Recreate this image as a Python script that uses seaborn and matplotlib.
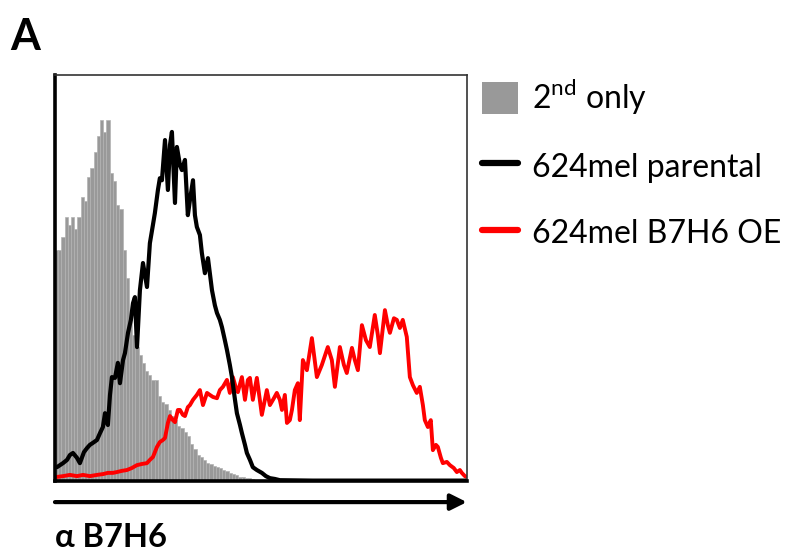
import matplotlib
matplotlib.use("Agg")
import matplotlib.pyplot as plt
from matplotlib.patches import Patch
from matplotlib.lines import Line2D
import pandas as pd
import seaborn as sns

# fluorescence channel (0-256) and normalised counts (axis top = 100)
gray_x = [1, 3, 5, 7, 9, 11, 13, 15, 17, 19, 21, 23, 25, 27, 29, 31, 33, 35, 37, 39,
          41, 43, 45, 47, 49, 51, 53, 55, 57, 59, 61, 63, 65, 67, 69, 71, 73, 75, 77, 79,
          81, 83, 85, 87, 89, 91, 93, 95, 97, 99, 101, 103, 105, 107, 109, 111, 113, 115,
          117, 119, 121, 123, 125]
gray_y = [57, 57, 60, 65, 63, 65, 62, 65, 70, 69, 75, 77, 81, 85, 89, 86, 89, 76, 74, 68,
          67, 57, 50, 40, 36, 33, 31, 29, 27, 26, 25, 25, 21, 19.5, 19, 17.5, 16, 15, 13.5, 13,
          12, 11, 9, 8, 6.5, 5.8, 5.2, 4.5, 4.2, 3.8, 3.4, 3.2, 2.8, 2.4, 2.0, 1.8, 1.4,
          1.0, 0.9, 0.8, 0.7, 0.4, 0.2]

black_x = [1.2, 3.1, 5.0, 7.5, 9.3, 11.2, 13.7, 15.5, 18.0, 19.9, 21.7, 23.6, 26.1, 28.0,
           29.8, 31.1, 32.9, 34.2, 35.4, 37.3, 39.1, 40.4, 42.3, 43.5, 45.4, 47.2, 48.5,
           49.7, 51.0, 52.8, 54.7, 57.2, 59.0, 60.9, 62.1, 64.0, 65.2, 66.5, 68.4, 70.2,
           71.5, 72.7, 74.6, 75.8, 77.7, 78.9, 80.8, 82.6, 83.9, 85.8, 87.0, 88.2, 90.1,
           91.3, 93.2, 95.1, 97.6, 99.4, 100.7, 102.5, 103.8, 105.6, 106.9, 108.7, 110.0,
           111.9, 113.1, 115.0, 116.2, 118.1, 119.3, 121.2, 123.0, 125.5, 128.6, 131.1,
           133.6, 136.7, 139.8, 160, 200, 256]
black_y = [3.4, 3.9, 4.4, 5.2, 6.4, 6.9, 5.7, 4.4, 7.1, 8.1, 8.9, 9.4, 10.1, 11.8,
           13.3, 16.7, 13.8, 21.2, 25.6, 25.4, 29.1, 24.1, 29.8, 31.5, 36.5, 39.7, 43.8,
           45.3, 33.0, 47.0, 53.7, 47.8, 58.6, 63.1, 66.0, 71.7, 74.6, 74.1, 84.0, 71.7,
           82.8, 86.0, 68.5, 82.3, 77.8, 76.6, 79.1, 65.5, 69.2, 74.1, 65.5, 62.6, 60.6,
           56.2, 51.2, 54.9, 47.0, 43.3, 41.4, 39.7, 37.9, 34.7, 32.3, 28.6, 25.6,
           20.0, 16.7, 13.8, 11.8, 8.9, 6.9, 5.2, 3.4, 2.7, 2.0, 1.2,
           0.7, 0.5, 0.2, 0.1, 0.1, 0.1]

red_x = [1.2, 5.0, 9.3, 13.7, 17.4, 21.7, 26.1, 29.8, 32.9, 36.0, 38.5, 41.6, 44.7, 47.8,
         50.9, 54.1, 57.2, 59.0, 60.9, 63.4, 65.2, 67.1, 68.4, 70.2, 71.5, 73.3, 74.6,
         76.4, 77.7, 79.5, 80.8, 82.6, 83.9, 85.8, 88.2, 90.1, 92.0, 94.5, 96.3, 98.2,
         100.7, 102.5, 104.4, 106.9, 108.7, 110.6, 112.5, 113.7, 116.2, 118.1, 119.9,
         121.2, 123.0, 125.5, 128.6, 131.7, 133.6, 136.1, 137.9, 139.8, 141.1, 142.9,
         144.2, 146.0, 147.3, 149.1, 151.0, 152.2, 154.1, 156.6, 159.7, 162.8, 165.9,
         169.6, 172.1, 174.0, 177.1, 179.6, 181.4, 184.6, 186.4, 188.3, 190.8, 193.3,
         195.7, 198.8, 200.7, 202.0, 205.1, 206.9, 208.2, 210.7, 212.5, 214.4, 216.2,
         218.7, 220.6, 222.5, 224.9, 226.8, 228.7, 229.9, 231.8, 233.6, 234.9, 236.8,
         238.0, 239.9, 241.1, 243.6, 245.5, 247.9, 249.8, 251.7, 252.9, 254.8, 256.0]
red_y = [1.0, 1.2, 1.5, 1.2, 1.5, 1.2, 1.5, 1.7, 2.0, 2.0, 2.2, 2.5, 2.7, 3.2,
         3.9, 4.2, 4.4, 5.2, 5.9, 8.4, 9.6, 10.1, 10.6, 14.3, 16.0, 15.0, 14.5,
         17.5, 17.5, 16.3, 16.0, 18.2, 18.7, 20.0, 21.2, 22.4, 18.7, 21.7, 21.2, 20.7,
         20.4, 22.4, 23.2, 24.9, 21.7, 25.6, 22.9, 21.9, 25.6, 20.0, 24.9,
         25.4, 20.0, 25.4, 16.3, 22.4, 18.7, 20.4, 21.7, 20.0, 17.5, 21.2,
         14.3, 15.0, 17.5, 22.4, 24.1, 15.0, 29.8, 27.3, 35.2, 25.6, 28.6,
         33.0, 29.8, 23.2, 33.0, 28.6, 26.6, 32.8, 29.8, 27.3, 38.4, 34.7,
         33.0, 40.9, 36.0, 31.5, 42.1, 38.4, 36.5, 40.1, 39.7, 37.7, 39.7,
         35.5, 25.6, 23.6, 21.7, 23.2, 18.7, 15.0, 13.3, 15.0, 7.6, 8.9,
         8.4, 5.7, 4.4, 4.7, 3.9, 3.2, 2.2, 2.7, 2.0, 1.2, 1.0]

labels = ["2$^{\\mathrm{nd}}$ only", "624mel parental", "624mel B7H6 OE"]
colors = ["#999999", "black", "#ff0000"]

sns.set_theme(style="white")
plt.rcParams["font.family"] = ["Lato", "DejaVu Sans"]
plt.rcParams["text.color"] = "black"
plt.rcParams["mathtext.fontset"] = "custom"
plt.rcParams["mathtext.rm"] = "Lato"

fig = plt.figure(figsize=(7.92, 5.56), dpi=100)
ax = fig.add_axes([0.0694, 0.1349, 0.520, 0.730])

gray_df = pd.DataFrame({"x": gray_x, "count": gray_y})
sns.histplot(data=gray_df, x="x", weights="count", binwidth=2, binrange=(0, 126),
             color=colors[0], edgecolor="#b3b3b3", linewidth=0.5, alpha=1, ax=ax)
sns.lineplot(x=red_x, y=red_y, color=colors[2], lw=2.8, sort=False, estimator=None, ax=ax)
sns.lineplot(x=black_x, y=black_y, color=colors[1], lw=3.0, sort=False, estimator=None, ax=ax)

ax.set_xlim(0, 256)
ax.set_ylim(0, 100)
ax.set_xticks([])
ax.set_yticks([])
ax.set_xlabel("")
ax.set_ylabel("")
for side in ["left", "bottom"]:
    ax.spines[side].set_color("black")
    ax.spines[side].set_linewidth(2.6)
for side in ["top", "right"]:
    ax.spines[side].set_color("#333333")
    ax.spines[side].set_linewidth(1.2)

# x direction arrow under the plot
ax.annotate("", xy=(1.0, -0.052), xytext=(0.0, -0.052), xycoords="axes fraction",
            arrowprops=dict(arrowstyle="-|>", color="black", lw=3, mutation_scale=24,
                            shrinkA=0, shrinkB=0))
ax.text(0.0, -0.103, "α B7H6", transform=ax.transAxes, fontsize=23.5, fontweight="bold",
        ha="left", va="top")
fig.text(0.013, 0.97, "A", fontsize=31, fontweight="bold", ha="left", va="top")

handles = [Patch(facecolor=colors[0], edgecolor="none"),
           Line2D([0], [0], color=colors[1], lw=4.5),
           Line2D([0], [0], color=colors[2], lw=4.5)]
ax.legend(handles, labels, loc="upper left", bbox_to_anchor=(1.036, 0.995),
          frameon=False, fontsize=23, handlelength=1.13, handleheight=1.16,
          handletextpad=0.44, labelspacing=1.05, borderaxespad=0, borderpad=0)

fig.savefig("out.png", dpi=100)
